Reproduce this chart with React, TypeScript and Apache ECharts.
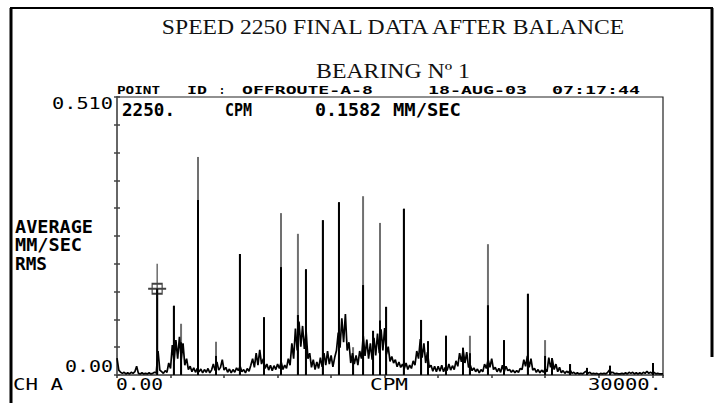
import React, { useEffect, useRef } from "react";
import * as echarts from "echarts";

// ---------- texts ----------
const TITLE = "SPEED 2250 FINAL DATA AFTER BALANCE";
const SUBTITLE = "BEARING Nº 1";
const HEADER_WORDS = ["POINT", "ID", ":", "OFFROUTE-A-8", "18-AUG-03", "07:17:44"];
const Y_TITLE = ["AVERAGE", "MM/SEC", "RMS"];
const Y_TICK_LABELS = ["0.510", "0.00"];
const X_TICK_LABELS = ["0.00", "30000."];
const X_NAME = "CPM";
const CHANNEL = "CH A";
const AMP_UNIT = "MM/SEC";

// ---------- cursor ----------
const CURSOR_CPM = 2250;
const CURSOR_AMP = 0.1582;

// ---------- axes ----------
const X_MAX = 30600;
const X_INTERVAL = 3000;
const Y_MAX = 0.51;
const Y_INTERVAL = 0.051;

// ---------- spectrum floor (0.001 mm/s, one value every 100 CPM) ----------
const FLOOR_STEP = 100;
const floorMilli = [
  31, 9, 5, 3, 5, 2, 4, 2, 5, 3, 6, 16, 3, 2, 4, 2, 3, 2, 4, 2,
  3, 5, 4, 44, 9, 6, 3, 8, 5, 22, 12, 55, 24, 64, 30, 70, 28, 58, 18, 30,
  10, 16, 6, 13, 5, 12, 6, 11, 4, 10, 5, 12, 4, 9, 20, 8, 24, 9, 14, 28,
  9, 14, 5, 11, 4, 10, 5, 13, 8, 16, 6, 10, 4, 12, 7, 18, 30, 14, 40, 18,
  46, 20, 30, 12, 20, 9, 18, 8, 17, 10, 20, 12, 24, 10, 18, 12, 30, 18, 58, 30,
  85, 45, 98, 52, 90, 48, 80, 30, 40, 14, 28, 10, 24, 12, 32, 15, 40, 18, 44, 20,
  36, 15, 32, 45, 78, 50, 104, 60, 112, 45, 60, 22, 40, 20, 36, 18, 44, 30, 72, 35,
  65, 30, 58, 28, 68, 36, 76, 40, 84, 45, 86, 38, 52, 25, 34, 22, 28, 15, 24, 14,
  20, 12, 22, 10, 18, 12, 26, 18, 44, 30, 66, 32, 58, 22, 42, 14, 18, 7, 16, 6,
  16, 7, 18, 6, 14, 8, 20, 9, 17, 10, 26, 16, 40, 24, 46, 22, 42, 14, 18, 8,
  13, 6, 11, 4, 10, 6, 20, 12, 28, 14, 30, 10, 14, 6, 12, 5, 18, 6, 16, 8,
  10, 5, 9, 4, 8, 5, 12, 10, 28, 16, 35, 14, 30, 9, 12, 5, 10, 4, 9, 5,
  11, 6, 32, 14, 28, 10, 20, 6, 14, 4, 8, 3, 7, 4, 9, 3, 5, 2, 4, 2,
  3, 2, 5, 7, 3, 5, 2, 3, 2, 3, 1, 3, 2, 3, 2, 5, 9, 4, 5, 2,
  3, 2, 2, 3, 2, 4, 2, 5, 3, 5, 2, 4, 2, 4, 2, 5, 3, 7, 3, 5,
  3, 5, 2, 3, 2, 2, 2,
];

// ---------- discrete spectral lines ----------
const spikeCpm = [
  2250, 3190, 3590, 4540, 5550, 6890, 8240, 9190, 10140, 10590, 11540, 12440, 13230, 13790, 14350, 14740,
  15080, 16080, 17040, 17430, 18440, 19390, 19780, 20790, 21690, 23030, 23990, 24380, 25390, 26340, 27630, 30040,
];
// full (peak) height, drawn grey
const spikePeak = [
  0.1582, 0.127, 0.094, 0.4, 0.061, 0.222, 0.106, 0.297, 0.259, 0.194, 0.284, 0.317, 0.051, 0.328, 0.081, 0.279,
  0.125, 0.305, 0.101, 0.062, 0.072, 0.05, 0.072, 0.24, 0.064, 0.149, 0.064, 0.031, 0.02, 0.013, 0.017, 0.022,
];
// solid black part of the same lines
const spikeCore = [
  0.1582, 0.127, 0.06, 0.321, 0.035, 0.222, 0.106, 0.198, 0.11, 0.194, 0.284, 0.317, 0.03, 0.165, 0.081, 0.1,
  0.125, 0.305, 0.101, 0.062, 0.072, 0.05, 0.04, 0.128, 0.064, 0.149, 0.035, 0.031, 0.02, 0.013, 0.017, 0.022,
];

// ---------- helpers ----------
const MONO = '"DejaVu Sans Mono", monospace';
const SERIF = '"Liberation Serif", "Times New Roman", serif';

let measureCtx: CanvasRenderingContext2D | null = null;
function measure(text: string, font: string): number {
  if (!measureCtx) {
    const c = document.createElement("canvas");
    measureCtx = c.getContext("2d");
  }
  if (!measureCtx) return text.length * 8;
  measureCtx.font = font;
  return measureCtx.measureText(text).width || text.length * 8;
}

function fitLeft(text: string, x0: number, x1: number, yc: number, font: string, fill = "#000") {
  const w = measure(text, font);
  return {
    type: "text",
    x: x0,
    y: yc,
    scaleX: (x1 - x0) / w,
    silent: true,
    style: { text, font, fill, textAlign: "left", textVerticalAlign: "middle", align: "left", verticalAlign: "middle" },
  };
}

function fitCenter(text: string, x0: number, x1: number, yc: number, font: string, fill = "#000") {
  const w = measure(text, font);
  return {
    type: "text",
    x: (x0 + x1) / 2,
    y: yc,
    scaleX: (x1 - x0) / w,
    silent: true,
    style: { text, font, fill, textAlign: "center", textVerticalAlign: "middle", align: "center", verticalAlign: "middle" },
  };
}

export default function App() {
  const ref = useRef<HTMLDivElement>(null);

  useEffect(() => {
    if (!ref.current) return;
    const chart = echarts.init(ref.current, undefined, { renderer: "svg" });

    const floorData = floorMilli.map((v, i) => [i * FLOOR_STEP, v / 1000]);
    const peakData = spikeCpm.map((c, i) => [c, spikePeak[i]]);
    const coreData = spikeCpm.map((c, i) => [c, spikeCore[i]]);

    const headFont = `bold 11px ${MONO}`;
    const bigBold = `bold 17px ${MONO}`;
    const sideBold = `bold 18px ${MONO}`;
    const reg = `15px ${MONO}`;
    const headerPos: [number, number][] = [
      [117, 160], [187, 207], [219, 225], [242, 373], [428, 527], [552, 640],
    ];

    const graphic: any[] = [
      // outer frame of the printout
      { type: "line", silent: true, shape: { x1: 11, y1: 8, x2: 11, y2: 403 }, style: { stroke: "#000", lineWidth: 3 } },
      { type: "line", silent: true, shape: { x1: 10, y1: 8, x2: 713, y2: 8 }, style: { stroke: "#000", lineWidth: 2 } },
      { type: "line", silent: true, shape: { x1: 712, y1: 8, x2: 712, y2: 357 }, style: { stroke: "#000", lineWidth: 3 } },
      fitCenter(TITLE, 160, 626, 27, `22px ${SERIF}`, "#111"),
      fitCenter(SUBTITLE, 316, 470, 71, `22px ${SERIF}`, "#111"),
      ...HEADER_WORDS.map((w, i) => fitLeft(w, headerPos[i][0], headerPos[i][1], 90, headFont)),
      fitLeft(`${CURSOR_CPM}.`, 122, 175, 110, bigBold),
      fitLeft(X_NAME, 225, 252, 110, bigBold),
      fitLeft(CURSOR_AMP.toFixed(4), 315, 381, 110, bigBold),
      fitLeft(AMP_UNIT, 393, 461, 110, bigBold),
      fitLeft(Y_TITLE[0], 15, 93, 227, sideBold),
      fitLeft(Y_TITLE[1], 15, 82, 245, sideBold),
      fitLeft(Y_TITLE[2], 15, 47, 263, sideBold),
      fitLeft(Y_TICK_LABELS[0], 52, 113, 104, reg),
      fitLeft(Y_TICK_LABELS[1], 65, 113, 367, reg),
      fitLeft(CHANNEL, 13, 63, 385, reg),
      fitLeft(X_TICK_LABELS[0], 116, 163, 385, reg),
      fitLeft(X_NAME, 370, 408, 385, reg),
      fitLeft(X_TICK_LABELS[1], 588, 662, 385, reg),
    ];

    const yBase = {
      type: "value",
      min: 0,
      max: Y_MAX,
      interval: Y_INTERVAL,
      axisLabel: { show: false },
      splitLine: { show: false },
    };

    const option: any = {
      animation: false,
      backgroundColor: "#ffffff",
      grid: {
        left: 117,
        top: 97,
        width: 546,
        height: 278,
        show: true,
        borderColor: "#222",
        borderWidth: 1.2,
        backgroundColor: "transparent",
      },
      xAxis: {
        type: "value",
        min: 0,
        max: X_MAX,
        interval: X_INTERVAL,
        axisLine: { show: true, onZero: false, lineStyle: { color: "#666", width: 2 } },
        axisTick: { show: true, length: 3, lineStyle: { color: "#333", width: 1.5 } },
        axisLabel: { show: false },
        splitLine: { show: false },
      },
      yAxis: [
        {
          ...yBase,
          axisLine: { show: true, lineStyle: { color: "#666", width: 2 } },
          axisTick: { show: true, inside: false, length: 3, lineStyle: { color: "#444", width: 1.5 } },
        },
        {
          ...yBase,
          position: "left",
          axisLine: { show: false },
          axisTick: { show: true, inside: true, length: 3, lineStyle: { color: "#444", width: 1.5 } },
        },
      ],
      series: [
        {
          type: "line",
          data: floorData,
          symbol: "none",
          silent: true,
          lineStyle: { color: "#000", width: 1.7 },
        },
        {
          type: "bar",
          data: peakData,
          barWidth: 2,
          barGap: "-100%",
          silent: true,
          itemStyle: { color: "#707070" },
        },
        {
          type: "bar",
          data: coreData,
          barWidth: 2,
          barGap: "-100%",
          silent: true,
          itemStyle: { color: "#000" },
        },
        {
          type: "scatter",
          data: [[CURSOR_CPM, CURSOR_AMP]],
          symbol: "path://M9 0 L9 34 M0 25 L18 25 M4 20 L14 20 L14 30 L4 30 Z",
          symbolSize: [18, 34],
          symbolOffset: [0, -8],
          silent: true,
          z: 5,
          itemStyle: { color: "rgba(0,0,0,0)", borderColor: "#111", borderWidth: 1.6 },
        },
      ],
      graphic,
    };

    chart.setOption(option);
    return () => chart.dispose();
  }, []);

  return (
    <div
      ref={ref}
      style={{ position: "absolute", left: 0, top: 0, width: 719, height: 403, background: "#fff" }}
    />
  );
}
